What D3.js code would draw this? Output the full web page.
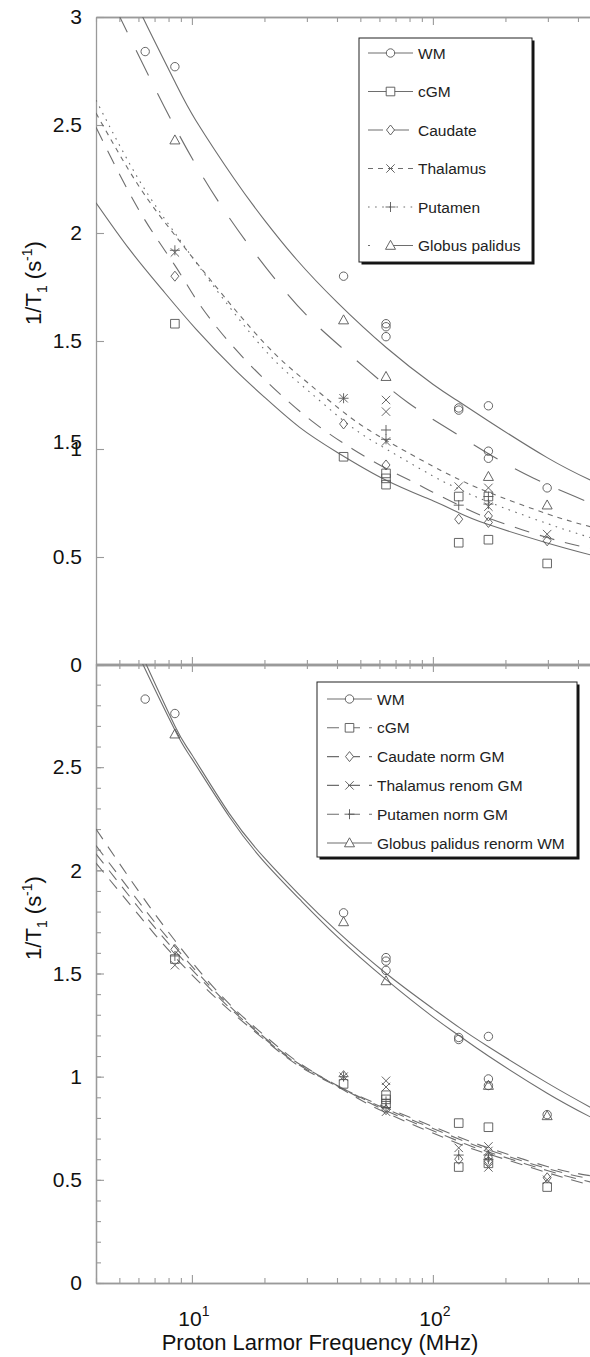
<!DOCTYPE html>
<html>
<head>
<meta charset="utf-8">
<script src="https://cdn.jsdelivr.net/npm/d3@7"></script>
<style>
  body { margin: 0; background: #fff; }
  svg { display: block; }
</style>
</head>
<body>
<div id="chart"></div>
<script>
// 1/T1 vs proton Larmor frequency, two stacked panels (raw / renormalised)

const labelsTop = ["WM", "cGM", "Caudate", "Thalamus", "Putamen", "Globus palidus"];
const labelsBottom = ["WM", "cGM", "Caudate norm GM", "Thalamus renom GM", "Putamen norm GM", "Globus palidus renorm WM"];

const yTicksTop = [0, 0.5, 1, 1.5, 2, 2.5, 3];
const yTicksBottom = [0, 0.5, 1, 1.5, 2, 2.5];
const yMinorBottom = d3.range(0, 30).map(d => d / 10);
const xDecades = [10, 100];

// measured points [MHz, 1/T1] -- top panel
const topWM = [[6.4, 2.84], [8.5, 2.77], [42.6, 1.80], [63.9, 1.58], [63.9, 1.566], [63.9, 1.52], [128, 1.19], [128, 1.18], [170, 1.20], [170, 0.99], [170, 0.957], [298, 0.82]];
const topCGM = [[8.5, 1.58], [42.6, 0.964], [63.9, 0.887], [63.9, 0.864], [63.9, 0.835], [128, 0.78], [128, 0.566], [170, 0.78], [170, 0.58], [298, 0.47]];
const topCaudate = [[8.5, 1.80], [42.6, 1.116], [63.9, 0.926], [128, 0.675], [170, 0.69], [170, 0.66], [298, 0.575]];
const topThalamus = [[8.5, 1.91], [42.6, 1.235], [63.9, 1.227], [63.9, 1.173], [63.9, 1.035], [128, 0.826], [170, 0.82], [170, 0.733], [298, 0.606]];
const topPutamen = [[8.5, 1.92], [42.6, 1.235], [63.9, 1.088], [63.9, 1.045], [128, 0.74], [170, 0.78], [170, 0.745]];
const topGlobus = [[8.5, 2.43], [42.6, 1.597], [63.9, 1.335], [170, 0.872], [298, 0.74]];

// fitted curves
const topWMFit = [[6.0, 3.06], [6.25, 3.0], [8.5, 2.70], [10.4, 2.52], [15, 2.25], [20, 2.06], [27.3, 1.875], [40, 1.68], [64, 1.47], [100, 1.30], [128, 1.22], [170, 1.13], [298, 0.96], [450, 0.856]];
const topCGMFit = [[4, 2.14], [5.5, 1.925], [7.5, 1.74], [10.4, 1.555], [15, 1.37], [20, 1.24], [28, 1.10], [40, 0.985], [64, 0.855], [100, 0.76], [128, 0.705], [170, 0.65], [298, 0.565], [450, 0.51]];
const topCaudateFit = [[4, 2.49], [6, 2.11], [8.5, 1.85], [10.6, 1.68], [14.4, 1.49], [21, 1.30], [31.4, 1.13], [46.4, 1.00], [64, 0.91], [82, 0.85], [100, 0.80], [128, 0.74], [170, 0.68], [298, 0.59], [450, 0.54]];
const topThalamusFit = [[4, 2.555], [6, 2.22], [8.5, 1.99], [12, 1.78], [20, 1.49], [30, 1.31], [45, 1.15], [64, 1.04], [100, 0.92], [128, 0.86], [170, 0.80], [298, 0.70], [450, 0.64]];
const topPutamenFit = [[4, 2.615], [6, 2.25], [8.5, 2.00], [12, 1.77], [20, 1.46], [30, 1.275], [45, 1.11], [64, 1.00], [100, 0.875], [128, 0.815], [170, 0.755], [298, 0.655], [450, 0.59]];
const topGlobusFit = [[4.8, 3.045], [5.5, 2.91], [8.6, 2.48], [14.3, 2.07], [24.8, 1.72], [36.3, 1.53], [53.7, 1.365], [78.7, 1.215], [117, 1.09], [175, 0.97], [262, 0.865], [389, 0.78], [450, 0.75]];

// measured points -- bottom panel
const botWM = [[6.4, 2.83], [8.5, 2.76], [42.6, 1.794], [63.9, 1.577], [63.9, 1.56], [63.9, 1.515], [128, 1.19], [128, 1.18], [170, 1.195], [170, 0.989], [170, 0.957], [298, 0.816]];
const botCGM = [[8.5, 1.57], [42.6, 0.965], [63.9, 0.91], [63.9, 0.89], [63.9, 0.87], [128, 0.775], [128, 0.562], [170, 0.755], [170, 0.58], [298, 0.465]];
const botCaudate = [[8.5, 1.617], [42.6, 1.005], [63.9, 0.84], [128, 0.60], [170, 0.61], [170, 0.59], [298, 0.51]];
const botThalamus = [[8.5, 1.54], [42.6, 1.0], [63.9, 0.98], [63.9, 0.95], [63.9, 0.83], [128, 0.655], [170, 0.662], [170, 0.64], [170, 0.56], [298, 0.50]];
const botPutamen = [[8.5, 1.585], [42.6, 1.0], [63.9, 0.88], [63.9, 0.85], [128, 0.62], [170, 0.62], [170, 0.60]];
const botGlobus = [[8.5, 2.66], [42.6, 1.75], [63.9, 1.464], [170, 0.957], [298, 0.81]];

// fitted curves
const botWMFit = [[6.0, 3.05], [6.25, 3.0], [8.5, 2.68], [10, 2.54], [14.3, 2.26], [20, 2.04], [28, 1.86], [40, 1.68], [64, 1.47], [100, 1.29], [128, 1.20], [170, 1.10], [298, 0.92], [450, 0.805]];
const botCGMFit = [[4, 2.20], [6, 1.90], [8.5, 1.66], [13.3, 1.39], [20, 1.20], [28, 1.065], [42.6, 0.935], [64, 0.825], [128, 0.675], [170, 0.625], [298, 0.535], [450, 0.475]];
const botCaudateFit = [[4, 2.12], [6, 1.85], [8.5, 1.63], [13.3, 1.38], [20, 1.19], [28, 1.06], [42.6, 0.94], [64, 0.835], [128, 0.687], [170, 0.635], [298, 0.545], [450, 0.49]];
const botThalamusFit = [[4, 2.08], [6, 1.82], [8.5, 1.61], [13.3, 1.37], [20, 1.185], [28, 1.055], [42.6, 0.94], [64, 0.843], [128, 0.698], [170, 0.645], [298, 0.555], [450, 0.505]];
const botPutamenFit = [[4, 2.035], [6, 1.785], [8.5, 1.58], [13.3, 1.355], [20, 1.18], [28, 1.05], [42.6, 0.94], [64, 0.85], [128, 0.708], [170, 0.655], [298, 0.565], [450, 0.52]];
const botGlobusFit = [[6.2, 3.04], [6.45, 3.0], [8.5, 2.70], [10, 2.56], [14.3, 2.275], [20, 2.06], [28, 1.88], [40, 1.705], [64, 1.50], [100, 1.33], [128, 1.24], [170, 1.145], [298, 0.97], [450, 0.852]];

const W = 590, H = 1357;
const X0 = 96, X1 = 590.3;
const FONT = "Liberation Sans, Arial, Helvetica, sans-serif";
const AXIS = "#9a9a9a";
const LINE = "#6e6e6e";
const MARK = "#555";

const x = d3.scaleLog().domain([4, 450]).range([X0, X1]);
const yTop = d3.scaleLinear().domain([0, 3]).range([665, 17]);
const yBot = d3.scaleLinear().domain([0, 3]).range([1283, 664]);

const svg = d3.select("#chart").append("svg")
    .attr("width", W)
    .attr("height", H)
    .attr("font-family", FONT);

svg.append("rect").attr("width", W).attr("height", H).attr("fill", "#fff");

function markerPath(type) {
    switch (type) {
        case "circle": return "M4.2,0A4.2,4.2 0 1,1 -4.2,0A4.2,4.2 0 1,1 4.2,0Z";
        case "square": return "M-4.3,-4.3H4.3V4.3H-4.3Z";
        case "diamond": return "M0,-5L4,0L0,5L-4,0Z";
        case "times": return "M-4.2,-4.2L4.2,4.2M-4.2,4.2L4.2,-4.2";
        case "plus": return "M-5,0H5M0,-5V5";
        case "triangle": return "M0,-5.2L5,3.8H-5Z";
    }
}

const panels = [
    {
        id: "top", y: yTop, yTicks: yTicksTop, yMinor: [], labels: labelsTop,
        series: [
            { pts: topWM, fit: topWMFit, marker: "circle", dash: null },
            { pts: topCGM, fit: topCGMFit, marker: "square", dash: null },
            { pts: topCaudate, fit: topCaudateFit, marker: "diamond", dash: "15,11" },
            { pts: topThalamus, fit: topThalamusFit, marker: "times", dash: "5,5" },
            { pts: topPutamen, fit: topPutamenFit, marker: "plus", dash: "1.6,5.5" },
            { pts: topGlobus, fit: topGlobusFit, marker: "triangle", dash: "28,20", legendOffset: 26 }
        ],
        legend: { x: 359, y: 38, w: 173, h: 224, row0: 53, step: 38.5, l0: 368, l1: 413, tx: 418 },
        title: { x: 41, y: 283 }
    },
    {
        id: "bottom", y: yBot, yTicks: yTicksBottom, yMinor: yMinorBottom, labels: labelsBottom,
        series: [
            { pts: botWM, fit: botWMFit, marker: "circle", dash: null },
            { pts: botCGM, fit: botCGMFit, marker: "square", dash: "12,9" },
            { pts: botCaudate, fit: botCaudateFit, marker: "diamond", dash: "12,9" },
            { pts: botThalamus, fit: botThalamusFit, marker: "times", dash: "12,9" },
            { pts: botPutamen, fit: botPutamenFit, marker: "plus", dash: "12,9" },
            { pts: botGlobus, fit: botGlobusFit, marker: "triangle", dash: null }
        ],
        legend: { x: 317, y: 682, w: 260, h: 175, row0: 699, step: 28.8, l0: 327, l1: 372, tx: 377 },
        title: { x: 41, y: 918 }
    }
];

function styleAxis(g, color) {
    g.attr("color", color);
    g.select(".domain").attr("stroke-width", 1.3);
    g.selectAll(".tick line").attr("stroke-width", 1.1);
    g.selectAll("text")
        .attr("fill", "#111")
        .attr("font-family", FONT)
        .attr("font-size", "21px");
}

function drawPanel(p) {
    const y = p.y;
    const [yb, yt] = y.range();
    const g = svg.append("g");

    const clipId = "clip-" + p.id;
    svg.append("clipPath").attr("id", clipId)
        .append("rect")
        .attr("x", X0).attr("y", yt)
        .attr("width", W - X0).attr("height", yb - yt);

    // x ticks on bottom and top edges, pointing inward
    const minorX = x.ticks().filter(t => !xDecades.includes(t));
    [[d3.axisBottom, yb], [d3.axisTop, yt]].forEach(([axisFn, pos]) => {
        g.append("g")
            .attr("transform", `translate(0,${pos})`)
            .call(axisFn(x).tickValues(minorX).tickSizeInner(-5).tickSizeOuter(0).tickFormat(""))
            .call(styleAxis, AXIS);
        g.append("g")
            .attr("transform", `translate(0,${pos})`)
            .call(axisFn(x).tickValues(xDecades).tickSizeInner(-8).tickSizeOuter(0).tickFormat(""))
            .call(styleAxis, AXIS);
    });

    // y axis
    if (p.yMinor.length) {
        g.append("g")
            .attr("transform", `translate(${X0},0)`)
            .call(d3.axisLeft(y).tickValues(p.yMinor).tickSizeInner(-5).tickSizeOuter(0).tickFormat(""))
            .call(styleAxis, AXIS);
    }
    g.append("g")
        .attr("transform", `translate(${X0},0)`)
        .call(d3.axisLeft(y).tickValues(p.yTicks).tickSizeInner(-8).tickSizeOuter(0).tickPadding(14).tickFormat(d3.format("~g")))
        .call(styleAxis, AXIS);

    // fitted curves
    const line = d3.line()
        .x(d => x(d[0]))
        .y(d => y(d[1]))
        .curve(d3.curveNatural);

    const plot = g.append("g").attr("clip-path", `url(#${clipId})`);
    p.series.forEach(s => {
        plot.append("path")
            .attr("d", line(s.fit))
            .attr("fill", "none")
            .attr("stroke", LINE)
            .attr("stroke-width", 1.1)
            .attr("stroke-dasharray", s.dash);
    });

    // data markers
    p.series.forEach(s => {
        plot.append("g")
            .selectAll("path")
            .data(s.pts)
            .join("path")
            .attr("transform", d => `translate(${x(d[0])},${y(d[1])})`)
            .attr("d", markerPath(s.marker))
            .attr("fill", "none")
            .attr("stroke", MARK)
            .attr("stroke-width", 0.9);
    });

    // legend
    const lg = p.legend;
    const leg = g.append("g");
    leg.append("rect")
        .attr("x", lg.x + 2.5).attr("y", lg.y + 2.5)
        .attr("width", lg.w).attr("height", lg.h)
        .attr("fill", "#111");
    leg.append("rect")
        .attr("x", lg.x).attr("y", lg.y)
        .attr("width", lg.w).attr("height", lg.h)
        .attr("fill", "#fff")
        .attr("stroke", "#222")
        .attr("stroke-width", 1);

    p.labels.forEach((name, i) => {
        const s = p.series[i];
        const cy = lg.row0 + i * lg.step;
        const mx = (lg.l0 + lg.l1) / 2;
        leg.append("line")
            .attr("x1", lg.l0).attr("x2", lg.l1)
            .attr("y1", cy).attr("y2", cy)
            .attr("stroke", LINE)
            .attr("stroke-width", 1.1)
            .attr("stroke-dasharray", s.dash)
            .attr("stroke-dashoffset", s.legendOffset || 0);
        leg.append("path")
            .attr("transform", `translate(${mx},${cy})`)
            .attr("d", markerPath(s.marker))
            .attr("fill", "#fff")
            .attr("stroke", MARK)
            .attr("stroke-width", 0.9);
        leg.append("text")
            .attr("x", lg.tx)
            .attr("y", cy + 5.5)
            .attr("font-size", "15.5px")
            .attr("fill", "#222")
            .text(name);
    });

    // y axis title 1/T1 (s-1)
    const title = g.append("text")
        .attr("transform", `translate(${p.title.x},${p.title.y}) rotate(-90)`)
        .attr("text-anchor", "middle")
        .attr("font-size", "22px")
        .attr("fill", "#111");
    title.append("tspan").text("1/T");
    title.append("tspan").attr("font-size", "14px").attr("dy", 6).text("1");
    title.append("tspan").attr("dy", -6).text(" (s");
    title.append("tspan").attr("font-size", "14px").attr("dy", -9).text("-1");
    title.append("tspan").attr("dy", 9).text(")");
}

panels.forEach(drawPanel);

// stray overlapping label next to the top panel's "1" tick, as in the source figure
svg.append("text")
    .attr("x", X0 - 14)
    .attr("y", yTop(1) - 7)
    .attr("dy", "0.32em")
    .attr("text-anchor", "end")
    .attr("font-size", "21px")
    .attr("fill", "#111")
    .text("1.5");

// x tick labels 10^1, 10^2
xDecades.forEach(t => {
    const lab = svg.append("text")
        .attr("x", x(t) + 2)
        .attr("y", 1326)
        .attr("text-anchor", "middle")
        .attr("font-size", "21px")
        .attr("fill", "#111");
    lab.append("tspan").text("10");
    lab.append("tspan").attr("font-size", "14px").attr("dy", -10).text(Math.log10(t));
});

svg.append("text")
    .attr("x", 320)
    .attr("y", 1350)
    .attr("text-anchor", "middle")
    .attr("font-size", "22px")
    .attr("fill", "#111")
    .text("Proton Larmor Frequency (MHz)");
</script>
</body>
</html>
